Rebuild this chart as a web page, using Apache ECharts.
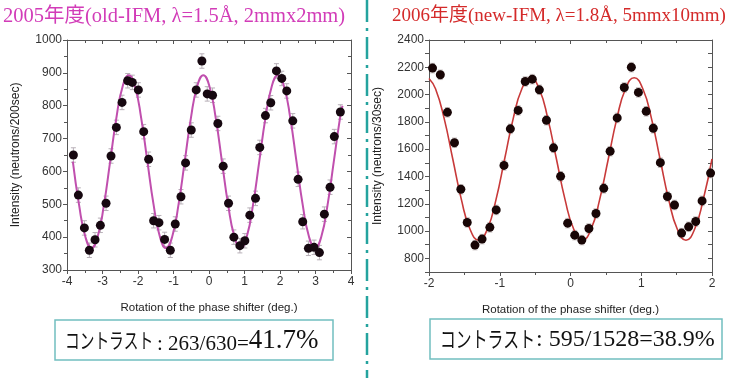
<!DOCTYPE html>
<html><head><meta charset="utf-8">
<script src="https://cdn.jsdelivr.net/npm/echarts@6/dist/echarts.min.js"></script>
<style>html,body{margin:0;padding:0;background:#fff}#c{width:729px;height:378px}</style>
</head><body><div id="c"></div>
<script>
// ---- Left panel (2005, old-IFM) ----
const leftPointX = [-3.82,-3.68,-3.51,-3.37,-3.21,-3.06,-2.90,-2.76,-2.61,-2.45,-2.29,-2.16,-1.99,-1.84,-1.70,-1.56,-1.41,-1.25,-1.09,-0.95,-0.79,-0.66,-0.50,-0.36,-0.20,-0.05,0.10,0.25,0.40,0.55,0.70,0.87,1.01,1.15,1.31,1.43,1.59,1.74,1.90,2.05,2.19,2.36,2.51,2.64,2.80,2.96,3.11,3.25,3.41,3.53,3.70];
const leftPointY = [650,528,428,360,392,436,503,647,734,810,876,871,848,721,637,450,444,393,360,440,523,626,726,848,936,836,832,746,616,503,400,374,389,467,518,673,770,809,906,883,845,754,576,447,366,369,353,470,552,706,781];
const leftErr = 22;
const leftFitX = [-3.835,-3.66,-3.485,-3.31,-3.135,-2.96,-2.785,-2.61,-2.435,-2.26,-2.085,-1.91,-1.735,-1.56,-1.385,-1.21,-1.035,-0.86,-0.685,-0.51,-0.335,-0.16,0.015,0.19,0.365,0.54,0.715,0.89,1.065,1.24,1.415,1.59,1.765,1.94,2.115,2.29,2.465,2.64,2.815,2.99,3.165,3.34,3.515,3.69,3.76];
const leftFitY = [630,498,402,367,402,498,630,762,858,893,858,762,630,498,402,367,402,498,630,762,858,893,858,762,630,498,402,367,402,498,630,762,858,893,858,762,630,498,402,367,402,498,630,762,800];
const leftXTicks = {min:-4, max:4, interval:1};
const leftYTicks = {min:300, max:1000, interval:100};

// ---- Right panel (2006, new-IFM) ----
const rightPointX = [-1.95,-1.84,-1.74,-1.64,-1.55,-1.46,-1.35,-1.25,-1.14,-1.05,-0.94,-0.85,-0.74,-0.64,-0.54,-0.44,-0.34,-0.24,-0.14,-0.04,0.06,0.16,0.26,0.36,0.47,0.56,0.66,0.76,0.86,0.96,1.07,1.17,1.27,1.37,1.47,1.57,1.67,1.77,1.86,1.98];
const rightPointY = [2194,2145,1870,1647,1306,1063,897,941,1027,1155,1481,1749,1884,2096,2113,2035,1812,1610,1401,1058,970,934,1019,1129,1313,1585,1829,2052,2201,2016,1877,1753,1501,1253,1191,985,1031,1070,1221,1425];
const rightErr = 35;
const rightFitX = [-2.0,-1.908,-1.786,-1.664,-1.542,-1.42,-1.298,-1.176,-1.053,-0.931,-0.809,-0.687,-0.565,-0.443,-0.321,-0.199,-0.077,0.046,0.168,0.29,0.412,0.534,0.656,0.778,0.9,1.022,1.144,1.266,1.388,1.51,1.632,1.754,1.876,2.0];
const rightFitY = [2118,2043,1826,1528,1230,1013,933,1013,1230,1528,1826,2043,2123,2043,1826,1528,1230,1013,933,1013,1230,1528,1826,2043,2123,2043,1826,1528,1230,1013,933,1013,1230,1528];
const rightXTicks = {min:-2, max:2, interval:1};
const rightYTicks = {min:700, max:2400, interval:100};
const rightYLabels = [800,1000,1200,1400,1600,1800,2000,2200,2400];

const titles = ['2005年度(old-IFM, λ=1.5Å, 2mmx2mm)', '2006年度(new-IFM, λ=1.8Å, 5mmx10mm)'];
const xName = 'Rotation of the phase shifter (deg.)';
const yNames = ['Intensity (neutrons/200sec)', 'Intensity (neutrons/30sec)'];
const contrastLabel = 'コントラスト';
const contrastLeft = [': 263/630=', '41.7%'];
const contrastRight = ': 595/1528=38.9%';

const zip = (a,b) => a.map((v,i)=>[v,b[i]]);
const zipErr = (a,b,e) => a.map((v,i)=>[v,b[i],e]);

const chart = echarts.init(document.getElementById('c'), null, {renderer:'canvas'});
const axisCol = '#555';
const sans = 'Liberation Sans, Arial, sans-serif';
const serif = 'Liberation Serif, Times New Roman, Noto Sans CJK JP, serif';

function mkX(grid, t, pos, main){
  return {
    type:'value', gridIndex:grid, position:pos, min:t.min, max:t.max, interval:t.interval,
    axisLine:{show:true, onZero:false, lineStyle:{color:axisCol, width:1}},
    axisTick:{show:true, inside:!main, length:4, lineStyle:{color:axisCol}},
    minorTick:{show:true, splitNumber:2, length:3, lineStyle:{color:axisCol}},
    splitLine:{show:false},
    axisLabel:{show:main, color:'#333', fontSize:12, fontFamily:sans, margin:6},
    name: main ? xName : '', nameLocation:'middle', nameGap:32,
    nameTextStyle:{color:'#222', fontSize:11.5, fontFamily:sans}
  };
}
function mkY(grid, t, pos, main, name, labelFilter, minorSplit){
  return {
    type:'value', gridIndex:grid, position:pos, min:t.min, max:t.max, interval:t.interval,
    axisLine:{show:true, onZero:false, lineStyle:{color:axisCol, width:1}},
    axisTick:{show:true, inside:!main, length:4, lineStyle:{color:axisCol}},
    minorTick:{show:minorSplit > 1, splitNumber:minorSplit, length:3, lineStyle:{color:axisCol}},
    splitLine:{show:false},
    axisLabel:{show:main, color:'#333', fontSize:12, fontFamily:sans, margin:5,
      formatter: labelFilter || (v=>String(v))},
    name: main ? name : '', nameLocation:'middle', nameGap:main ? 45 : 0, nameRotate:90,
    nameTextStyle:{color:'#222', fontSize:12, fontFamily:sans}
  };
}

function errRenderer(color){
  return function(params, api){
    const x=api.value(0), y=api.value(1), e=api.value(2);
    const hi=api.coord([x,y+e]), lo=api.coord([x,y-e]);
    const w=2.5;
    const st={stroke:color, lineWidth:1};
    return {type:'group', children:[
      {type:'line', shape:{x1:hi[0],y1:hi[1],x2:lo[0],y2:lo[1]}, style:st},
      {type:'line', shape:{x1:hi[0]-w,y1:hi[1],x2:hi[0]+w,y2:hi[1]}, style:st},
      {type:'line', shape:{x1:lo[0]-w,y1:lo[1],x2:lo[0]+w,y2:lo[1]}, style:st}
    ]};
  };
}

const rightYFmt = v => (rightYLabels.indexOf(v) >= 0 ? String(v) : '');

const option = {
  animation:false,
  backgroundColor:'#fff',
  grid:[
    {left:67, top:40, width:284, height:230},
    {left:429, top:40, width:283, height:232}
  ],
  xAxis:[
    mkX(0, leftXTicks, 'bottom', true),
    mkX(0, leftXTicks, 'top', false),
    mkX(1, rightXTicks, 'bottom', true),
    mkX(1, rightXTicks, 'top', false)
  ],
  yAxis:[
    mkY(0, leftYTicks, 'left', true, yNames[0], null, 2),
    mkY(0, leftYTicks, 'right', false, '', null, 2),
    mkY(1, rightYTicks, 'left', true, yNames[1], rightYFmt, 1),
    mkY(1, rightYTicks, 'right', false, '', null, 1)
  ],
  series:[
    {type:'custom', xAxisIndex:0, yAxisIndex:0, renderItem:errRenderer('#b8b0b8'),
      data:zipErr(leftPointX,leftPointY,leftErr), z:1, silent:true},
    {type:'line', xAxisIndex:0, yAxisIndex:0, data:zip(leftFitX,leftFitY), smooth:0.5,
      showSymbol:false, lineStyle:{color:'#c04fae', width:2}, z:2},
    {type:'scatter', xAxisIndex:0, yAxisIndex:0, data:zip(leftPointX,leftPointY),
      symbolSize:9, itemStyle:{color:'#160810', opacity:1}, z:3},
    {type:'custom', xAxisIndex:2, yAxisIndex:2, renderItem:errRenderer('#c8c0c0'),
      data:zipErr(rightPointX,rightPointY,rightErr), z:1, silent:true},
    {type:'line', xAxisIndex:2, yAxisIndex:2, data:zip(rightFitX,rightFitY), smooth:0.5,
      showSymbol:false, lineStyle:{color:'#c83a3a', width:1.6}, z:2},
    {type:'scatter', xAxisIndex:2, yAxisIndex:2, data:zip(rightPointX,rightPointY),
      symbolSize:9, itemStyle:{color:'#180606', opacity:1}, z:3}
  ],
  graphic:[
    {type:'text', left:3, top:6, style:{text:titles[0], fill:'#d23cb8', font:'20.5px '+serif}},
    {type:'text', left:392, top:7, style:{text:titles[1], fill:'#d42a2a', font:'19px '+serif}},
    {type:'line', shape:{x1:367, y1:0, x2:367, y2:378},
      style:{stroke:'#24a39e', lineWidth:2.5, lineDash:[22,6,3,6]}},
    {type:'rect', shape:{x:55, y:320, width:278, height:40},
      style:{fill:'none', stroke:'#72bfc0', lineWidth:1.5}},
    {type:'rect', shape:{x:430, y:319, width:292, height:40},
      style:{fill:'none', stroke:'#72bfc0', lineWidth:1.5}},
    {type:'text', x:65, y:340, scaleX:0.7,
      style:{text:contrastLabel, fill:'#111', font:'21px Noto Sans CJK JP, sans-serif', verticalAlign:'middle'}},
    {type:'text', x:157, y:341,
      style:{text:'{a|'+contrastLeft[0]+'}{b|'+contrastLeft[1]+'}', verticalAlign:'middle',
        rich:{a:{fontSize:21, fontFamily:serif, fill:'#111', verticalAlign:'bottom'},
              b:{fontSize:27, fontFamily:serif, fill:'#111', verticalAlign:'bottom'}}}},
    {type:'text', x:440, y:339, scaleX:0.72,
      style:{text:contrastLabel, fill:'#111', font:'22px Noto Sans CJK JP, sans-serif', verticalAlign:'middle'}},
    {type:'text', x:536, y:340,
      style:{text:contrastRight, fill:'#111', font:'24px '+serif, verticalAlign:'middle'}}
  ]
};
chart.setOption(option);
</script></body></html>
